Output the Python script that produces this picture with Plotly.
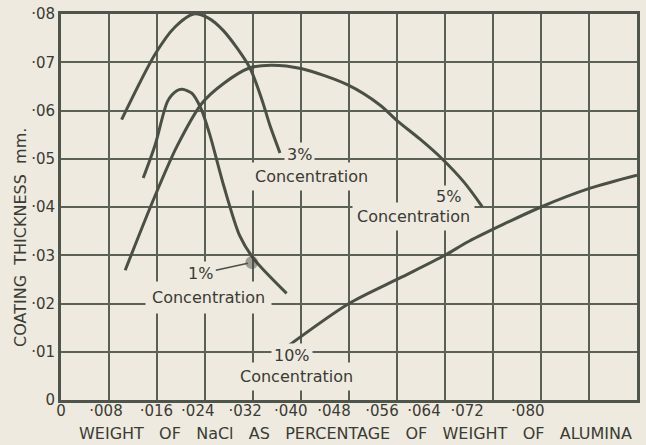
import plotly.graph_objects as go

# ---- data ----
x_1pct = [0.0137, 0.0157, 0.0178, 0.0193, 0.0202, 0.0218, 0.0233, 0.0248, 0.0271, 0.0298, 0.0321, 0.0376]
y_1pct = [0.0460, 0.0529, 0.0620, 0.0641, 0.0644, 0.0636, 0.0605, 0.0550, 0.0445, 0.0340, 0.0293, 0.0221]

x_3pct = [0.0101, 0.0157, 0.0190, 0.0221, 0.0245, 0.0271, 0.0314, 0.0335, 0.0348, 0.0365]
y_3pct = [0.0581, 0.0717, 0.0773, 0.0800, 0.0792, 0.0765, 0.0690, 0.0622, 0.0570, 0.0512]

x_5pct = [0.0107, 0.0154, 0.0193, 0.0235, 0.0271, 0.0314, 0.0350, 0.0400, 0.0478, 0.0532, 0.0560, 0.0598, 0.0635, 0.0672, 0.0702]
y_5pct = [0.0269, 0.0415, 0.0525, 0.0615, 0.0656, 0.0688, 0.0694, 0.0687, 0.0653, 0.0611, 0.0579, 0.0541, 0.0500, 0.0451, 0.0401]

x_10pct = [0.0373, 0.0480, 0.0565, 0.0640, 0.0680, 0.0800, 0.0882, 0.0960]
y_10pct = [0.0107, 0.0200, 0.0253, 0.0300, 0.0329, 0.0400, 0.0439, 0.0466]

blob_x = [0.0318]
blob_y = [0.0285]

x_tick_labels = ["0", "·008", "·016", "·024", "·032", "·040", "·048", "·056", "·064", "·072", "·080"]
y_tick_vals = [0, 0.01, 0.02, 0.03, 0.04, 0.05, 0.06, 0.07, 0.08]
y_tick_labels = ["0", "·01", "·02", "·03", "·04", "·05", "·06", "·07", "·08"]

series_labels = ["1%", "3%", "5%", "10%"]
conc_word = "Concentration"

# ---- layout / style ----
x_label_pos = [0.0, 0.0075, 0.0159, 0.0228, 0.0307, 0.0383, 0.0455, 0.0535, 0.0605, 0.0677, 0.0778]
x_grid = [i * 0.008 for i in range(13)]

BG = "#eeeadf"
GRID = "#5c6157"
LINE = "#4a5045"
TXT = "#3a3b34"
FONT = "DejaVu Sans"

fig = go.Figure()
for xs, ys in [(x_3pct, y_3pct), (x_1pct, y_1pct), (x_5pct, y_5pct), (x_10pct, y_10pct)]:
    fig.add_trace(go.Scatter(x=xs, y=ys, mode="lines",
                             line=dict(color=LINE, width=3, shape="spline", smoothing=0.8),
                             showlegend=False, hoverinfo="skip"))

fig.add_trace(go.Scatter(x=blob_x, y=blob_y, mode="markers",
                         marker=dict(size=13, color="rgba(60,62,56,0.45)", line=dict(width=0)),
                         showlegend=False, hoverinfo="skip"))

ann = []
lab_font = dict(family=FONT, size=16, color=TXT)
def label(x, y, text, pad=3, **kw):
    d = dict(x=x, y=y, xref="x", yref="y", text=text, showarrow=False,
             font=lab_font, bgcolor=BG, borderpad=pad)
    d.update(kw)
    ann.append(d)

# 3%
label(0.0397, 0.0508, series_labels[1], pad=2)
label(0.0418, 0.0464, conc_word, pad=4)
# 5%
label(0.0645, 0.0421, series_labels[2], pad=1)
label(0.0588, 0.0381, conc_word, pad=4)
# 1%
ann.append(dict(x=blob_x[0], y=blob_y[0], xref="x", yref="y", text=series_labels[0],
                showarrow=True, arrowhead=0, arrowwidth=1.5, arrowcolor=LINE,
                ax=-51, ay=11, standoff=4, font=lab_font, bgcolor=BG, borderpad=2))
label(0.0245, 0.0213, conc_word, pad=6)
# 10%
label(0.0385, 0.0093, series_labels[3], pad=2)
label(0.0392, 0.0048, conc_word, pad=4)

# axis titles
ann.append(dict(x=0.512, y=-0.088, xref="paper", yref="paper",
                text="WEIGHT\u00a0\u00a0 OF\u00a0\u00a0 NaCl\u00a0\u00a0 AS\u00a0\u00a0 PERCENTAGE\u00a0\u00a0 OF\u00a0\u00a0 WEIGHT\u00a0\u00a0 OF\u00a0\u00a0 ALUMINA",
                showarrow=False, font=dict(family=FONT, size=16, color=TXT),
                xanchor="center", yanchor="middle"))
ann.append(dict(x=-0.0694, y=0.42, xref="paper", yref="paper",
                text="COATING\u00a0 THICKNESS\u00a0 mm.", textangle=-90,
                showarrow=False, font=dict(family=FONT, size=16, color=TXT),
                xanchor="center", yanchor="middle"))

fig.update_layout(
    width=646, height=445,
    margin=dict(l=61, r=9, t=14, b=45, autoexpand=False),
    paper_bgcolor=BG, plot_bgcolor=BG,
    annotations=ann,
    xaxis=dict(range=[0, 0.096], tickmode="array", tickvals=x_grid, showticklabels=False,
               showgrid=True, gridcolor=GRID, gridwidth=2, zeroline=False, automargin=False,
               showline=True, linecolor="#50554b", linewidth=3, mirror=True, ticks=""),
    xaxis2=dict(range=[0, 0.096], overlaying="x", anchor="y", side="bottom", automargin=False,
                tickmode="array", tickvals=x_label_pos, ticktext=x_tick_labels,
                showgrid=False, zeroline=False, showline=False, ticks="",
                tickfont=dict(family=FONT, size=15, color=TXT)),
    yaxis=dict(range=[0, 0.08], tickmode="array", tickvals=y_tick_vals, ticktext=y_tick_labels,
               showgrid=True, gridcolor=GRID, gridwidth=2, zeroline=False, automargin=False,
               showline=True, linecolor="#50554b", linewidth=3, mirror=True, ticks="",
               tickfont=dict(family=FONT, size=15, color=TXT)),
)
fig.add_trace(go.Scatter(x=[0.05], y=[0.05], xaxis="x2", mode="markers",
                         marker=dict(opacity=0), showlegend=False, hoverinfo="skip"))

fig.write_html("out.html", config={"displayModeBar": False},
               post_script="document.body.style.margin='0';document.body.style.overflow='hidden';document.body.style.background='" + BG + "';")
